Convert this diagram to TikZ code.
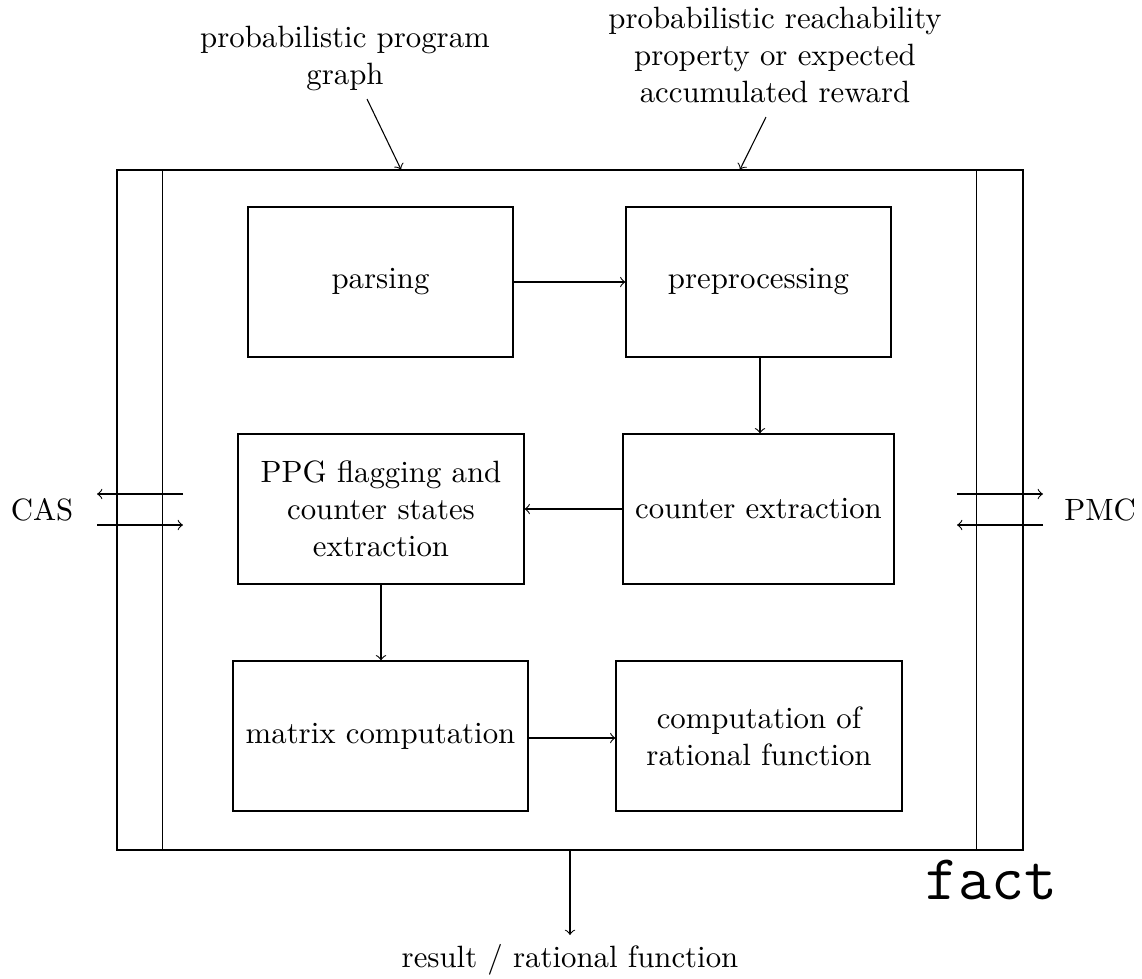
\documentclass[tikz,border=0pt]{standalone}
\newcommand\pxu{0.3247pt}
\begin{document}
\begin{tikzpicture}[x=\pxu,y=-\pxu,line width=0.35pt,
  stage/.style={draw,align=center,inner sep=0pt},
  flow/.style={->},
  note/.style={align=center,inner sep=0pt}]
\useasboundingbox (0,0) rectangle (1142,978);

% tool frame with its two interface strips
\node[draw,minimum width=906*\pxu,minimum height=680*\pxu,inner sep=0pt] (tool) at (570,510) {};
\draw (tool.north west) ++(46,0) coordinate (ltop) -- (ltop |- tool.south);
\draw (tool.north east) ++(-47,0) coordinate (rtop) -- (rtop |- tool.south);
\node[anchor=north east,inner sep=0pt,font=\huge\ttfamily] (name) at (1058,860) {fact};

% processing stages
\node[stage,minimum width=265*\pxu,minimum height=150*\pxu] (parse) at (380.5,282) {parsing};
\node[stage,minimum width=265*\pxu,minimum height=150*\pxu] (prep) at (758.5,282) {preprocessing};
\node[stage,minimum width=286*\pxu,minimum height=150*\pxu] (flag) at (381,509) {PPG flagging and\\counter states\\extraction};
\node[stage,minimum width=271*\pxu,minimum height=150*\pxu] (cnt) at (758.5,509) {counter extraction};
\node[stage,minimum width=295*\pxu,minimum height=150*\pxu] (mat) at (380.5,736) {matrix computation};
\node[stage,minimum width=286*\pxu,minimum height=150*\pxu] (rat) at (759,736) {computation of\\rational function};

\draw[flow] (parse.east) -- (prep.west);
\draw[flow] (prep.south -| 760,0) -- (cnt.north -| 760,0);
\draw[flow] (cnt.west) -- (cnt.west -| flag.east);
\draw[flow] (flag.south) -- (flag.south |- mat.north);
\draw[flow] (mat.east |- 0,738) -- (rat.west |- 0,738);

% inputs
\node[note] (pin) at (345,58) {probabilistic program\\graph};
\node[note] (qin) at (775,55) {probabilistic reachability\\property or expected\\accumulated reward};
\coordinate (pin-a) at (367,99);
\coordinate (qin-a) at (766,117);
\draw[flow] (pin-a) -- (401,0 |- tool.north);
\draw[flow] (qin-a) -- (740,0 |- tool.north);

% output
\node[note,anchor=north] (out) at (570,944) {result / rational function};
\coordinate (outtip) at (570,935);
\draw[flow] (tool.south -| outtip) -- (outtip);

% external tools
\node[note] (cas) at (42,510) {CAS};
\node[note] (pmc) at (1100,510) {PMC};
\coordinate (casin) at (97,494);
\coordinate (casout) at (97,525);
\coordinate (pmcout) at (1043,494);
\coordinate (pmcin) at (1043,525);
\draw[flow] (casin -| 183,0) -- (casin);
\draw[flow] (casout) -- (casout -| 183,0);
\draw[flow] (pmcout -| 957,0) -- (pmcout);
\draw[flow] (pmcin) -- (pmcin -| 957,0);
\end{tikzpicture}
\end{document}
